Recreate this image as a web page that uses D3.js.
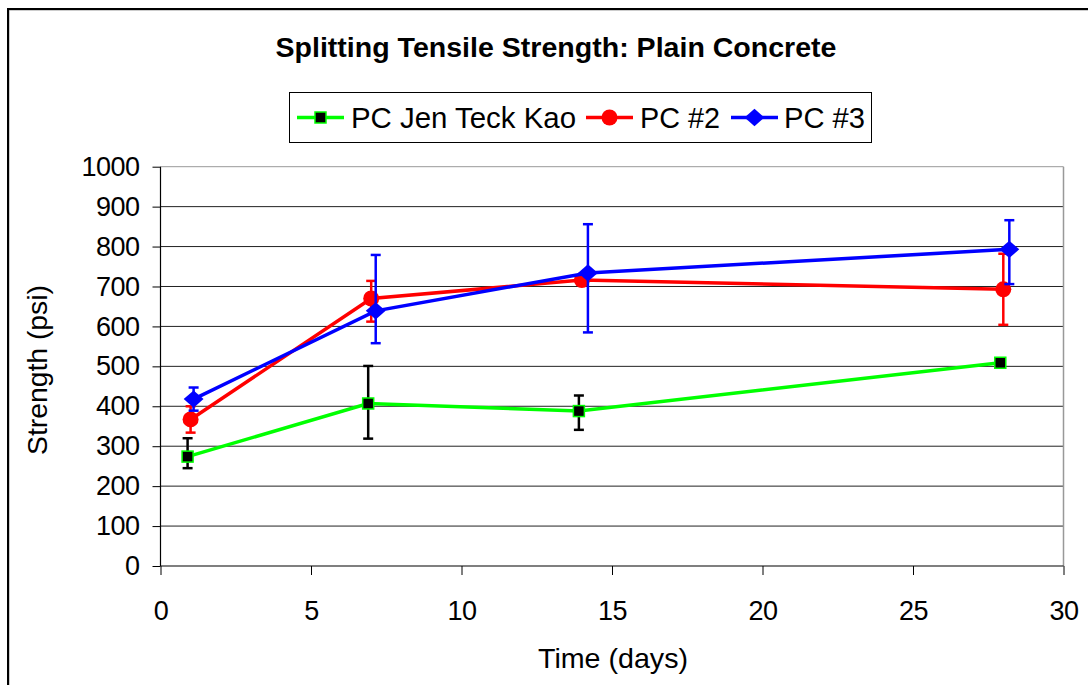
<!DOCTYPE html>
<html><head><meta charset="utf-8">
<script src="https://cdn.jsdelivr.net/npm/d3@7"></script>
<style>body{margin:0;background:#fff}svg{display:block}text{font-family:Arial,"Liberation Sans",sans-serif}</style>
</head><body><svg id="c" width="1088" height="685"></svg>
<script>
const seriesNames = ["PC Jen Teck Kao", "PC #2", "PC #3"];
const seriesColors = ["#00ff00", "#ff0000", "#0000ff"];
const greenX = [0.9, 6.9, 13.9, 27.9];
const greenY = [274, 407, 388, 509];
const greenHi = [320, 501, 427, 509];
const greenLo = [245, 319, 341, 509];
const redX = [1.0, 7.0, 14.0, 28.0];
const redY = [367, 670, 716, 693];
const redHi = [400, 714, 716, 782];
const redLo = [334, 612, 716, 604];
const blueX = [1.1, 7.15, 14.2, 28.2];
const blueY = [418, 639, 734, 793];
const blueHi = [447, 779, 856, 866];
const blueLo = [389, 558, 585, 706];
const xTicks = [0, 5, 10, 15, 20, 25, 30];
const yTicks = [0, 100, 200, 300, 400, 500, 600, 700, 800, 900, 1000];

const svg = d3.select("#c");
// outer frame
svg.append("rect").attr("x", 9).attr("y", 10).attr("width", 1100).attr("height", 700)
  .attr("fill", "none").attr("stroke", "#999").attr("stroke-width", 1);
svg.append("rect").attr("x", 8).attr("y", 9).attr("width", 1100).attr("height", 700)
  .attr("fill", "none").attr("stroke", "#000").attr("stroke-width", 2);

const L = 160.5, R = 1063.5, T = 166.7, B = 566;
const x = d3.scaleLinear().domain([0, 30]).range([L, R]);
const y = d3.scaleLinear().domain([0, 1000]).range([B, T]);

// gridlines
svg.append("g").selectAll("line").data(yTicks.filter(d => d > 0)).join("line")
  .attr("x1", L).attr("x2", R).attr("y1", d => y(d)).attr("y2", d => y(d))
  .attr("stroke", d => d === 1000 ? "#999" : "#222").attr("stroke-width", 1);
svg.append("line").attr("x1", R).attr("x2", R).attr("y1", T).attr("y2", B).attr("stroke", "#999").attr("stroke-width", 1.5);

// axes
const yAxis = svg.append("g").attr("transform", `translate(${L},0)`)
  .call(d3.axisLeft(y).tickValues(yTicks).tickFormat(d3.format("d")).tickSize(8).tickPadding(13));
const xAxis = svg.append("g").attr("transform", `translate(0,${B})`)
  .call(d3.axisBottom(x).tickValues(xTicks).tickFormat(d3.format("d")).tickSize(9).tickPadding(26));
[yAxis, xAxis].forEach(a => {
  a.selectAll("path").attr("stroke", "#000").attr("stroke-width", 1.2);
  a.selectAll("line").attr("stroke", "#000");
  a.selectAll("text").attr("font-size", 27).attr("fill", "#000").attr("font-family", "Arial, 'Liberation Sans', sans-serif")
    .attr("letter-spacing", -0.5);
});
yAxis.select(".domain").attr("d", `M0,${T}V${B}`);
xAxis.select(".domain").attr("d", `M${L},0H${R}`);

// titles
svg.append("text").attr("x", 556).attr("y", 57).attr("text-anchor", "middle")
  .attr("font-size", 28).attr("font-weight", "bold").attr("textLength", 561).attr("lengthAdjust", "spacingAndGlyphs")
  .text("Splitting Tensile Strength: Plain Concrete");
svg.append("text").attr("x", 613).attr("y", 668).attr("text-anchor", "middle").attr("font-size", 28)
  .attr("textLength", 150).attr("lengthAdjust", "spacingAndGlyphs").text("Time (days)");
svg.append("text").attr("transform", `translate(47,370) rotate(-90)`).attr("text-anchor", "middle").attr("font-size", 28)
  .attr("textLength", 170).attr("lengthAdjust", "spacingAndGlyphs").text("Strength (psi)");

const series = [
  {xs: greenX, ys: greenY, hi: greenHi, lo: greenLo, errColor: "#000", marker: "square"},
  {xs: redX, ys: redY, hi: redHi, lo: redLo, errColor: "#ff0000", marker: "circle"},
  {xs: blueX, ys: blueY, hi: blueHi, lo: blueLo, errColor: "#0000ff", marker: "diamond"}
];

function drawMarker(g, kind, cx, cy, color) {
  if (kind === "square") {
    g.append("rect").attr("x", cx - 5.5).attr("y", cy - 5.5).attr("width", 11).attr("height", 11)
      .attr("fill", "#000").attr("stroke", color).attr("stroke-width", 1.5);
  } else if (kind === "circle") {
    g.append("circle").attr("cx", cx).attr("cy", cy).attr("r", 8).attr("fill", color);
  } else {
    g.append("path").attr("d", d3.symbol(d3.symbolDiamond2, 190)()).attr("transform", `translate(${cx},${cy}) scale(1.15,1)`).attr("fill", color);
  }
}

const line = d3.line().x(d => x(d[0])).y(d => y(d[1]));
series.forEach((s, i) => {
  const g = svg.append("g");
  s.xs.forEach((xv, j) => {
    if (s.hi[j] === s.lo[j]) return;
    const cx = x(xv);
    g.append("line").attr("x1", cx).attr("x2", cx).attr("y1", y(s.hi[j])).attr("y2", y(s.lo[j]))
      .attr("stroke", s.errColor).attr("stroke-width", 2.5);
    [s.hi[j], s.lo[j]].forEach(v => g.append("line").attr("x1", cx - 5).attr("x2", cx + 5)
      .attr("y1", y(v)).attr("y2", y(v)).attr("stroke", s.errColor).attr("stroke-width", 2.5));
  });
  g.append("path").attr("d", line(s.xs.map((xv, j) => [xv, s.ys[j]])))
    .attr("fill", "none").attr("stroke", seriesColors[i]).attr("stroke-width", 3.5);
  s.xs.forEach((xv, j) => drawMarker(g, s.marker, x(xv), y(s.ys[j]), seriesColors[i]));
});

// legend
const lg = svg.append("g");
lg.append("rect").attr("x", 289.5).attr("y", 92.5).attr("width", 582).attr("height", 50)
  .attr("fill", "#fff").attr("stroke", "#000").attr("stroke-width", 1);
const legendX = [297, 586, 731];
const textX = [351, 640, 784];
const textW = [225, 80, 81];
series.forEach((s, i) => {
  const g = lg.append("g");
  g.append("line").attr("x1", legendX[i]).attr("x2", legendX[i] + 47).attr("y1", 117.5).attr("y2", 117.5)
    .attr("stroke", seriesColors[i]).attr("stroke-width", 3.5);
  drawMarker(g, s.marker, legendX[i] + 23.5, 117.5, seriesColors[i]);
  g.append("text").attr("x", textX[i]).attr("y", 128).attr("font-size", 30)
    .attr("textLength", textW[i]).attr("lengthAdjust", "spacingAndGlyphs").text(seriesNames[i]);
});
</script></body></html>
